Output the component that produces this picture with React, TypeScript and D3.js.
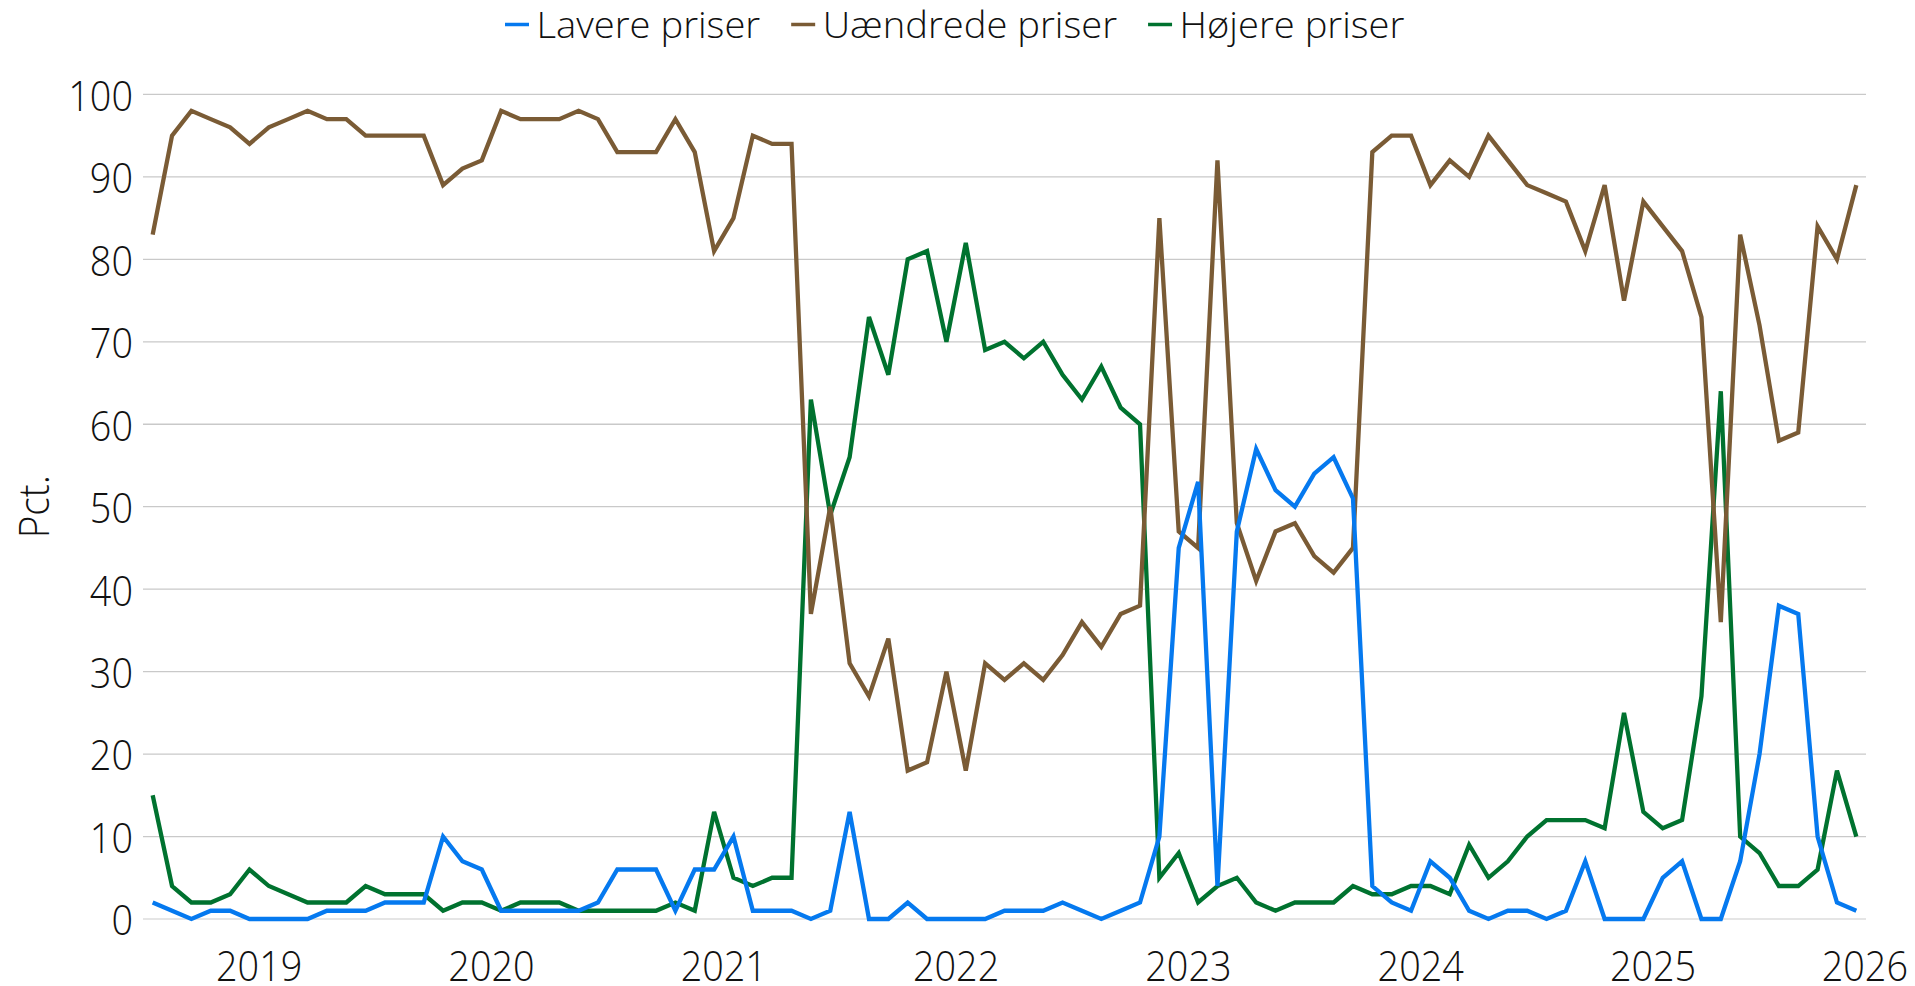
import React, { useEffect, useRef } from "react";
import * as d3 from "d3";

const W = 1915;
const H = 986;

// Monthly observations, first = July 2018, last = November 2025
const firstYear = 2018;
const firstMonth = 6; // July (0-based)

const lavere = [
  2, 1, 0, 1, 1, 0, 0, 0, 0, 1, 1, 1, 2, 2, 2, 10, 7, 6, 1, 1, 1,
  1, 1, 2, 6, 6, 6, 1, 6, 6, 10, 1, 1, 1, 0, 1, 13, 0, 0, 2, 0, 0,
  0, 0, 1, 1, 1, 2, 1, 0, 1, 2, 10, 45, 53, 4, 47, 57, 52, 50, 54, 56, 51,
  4, 2, 1, 7, 5, 1, 0, 1, 1, 0, 1, 7, 0, 0, 0, 5, 7, 0, 0, 7, 20, 38, 37, 10, 2, 1,
];

const uaendrede = [
  83, 95, 98, 97, 96, 94, 96, 97, 98, 97, 97, 95, 95, 95, 95, 89, 91, 92, 98, 97, 97,
  97, 98, 97, 93, 93, 93, 97, 93, 81, 85, 95, 94, 94, 37, 50, 31, 27, 34, 18, 19, 30,
  18, 31, 29, 31, 29, 32, 36, 33, 37, 38, 85, 47, 45, 92, 48, 41, 47, 48, 44, 42, 45,
  93, 95, 95, 89, 92, 90, 95, 92, 89, 88, 87, 81, 89, 75, 87, 84, 81, 73, 36, 83, 72, 58, 59, 84, 80, 89,
];

const hoejere = [
  15, 4, 2, 2, 3, 6, 4, 3, 2, 2, 2, 4, 3, 3, 3, 1, 2, 2, 1, 2, 2,
  2, 1, 1, 1, 1, 1, 2, 1, 13, 5, 4, 5, 5, 63, 49, 56, 73, 66, 80, 81, 70,
  82, 69, 70, 68, 70, 66, 63, 67, 62, 60, 5, 8, 2, 4, 5, 2, 1, 2, 2, 2, 4,
  3, 3, 4, 4, 3, 9, 5, 7, 10, 12, 12, 12, 11, 25, 13, 11, 12, 27, 64, 10, 8, 4, 4, 6, 18, 10,
];

const seriesNames = ["Lavere priser", "Uændrede priser", "Højere priser"];
const seriesColors = ["#0579EF", "#7A5B35", "#00722F"];
const yearTicks = [2019, 2020, 2021, 2022, 2023, 2024, 2025, 2026];
const yTicks = [0, 10, 20, 30, 40, 50, 60, 70, 80, 90, 100];
const yLabel = "Pct.";

const FONT = '"Open Sans", "Noto Sans", sans-serif';
const WEIGHT = 300;

export default function App() {
  const ref = useRef<SVGSVGElement | null>(null);

  useEffect(() => {
    const svg = d3.select(ref.current);
    svg.selectAll("*").remove();

    const left = 143;
    const right = 1866;
    const top = 94.4;
    const bottom = 919;
    const nMonths = lavere.length;

    const x = d3.scaleLinear().domain([0, nMonths]).range([left, right]);
    const y = d3.scaleLinear().domain([0, 100]).range([bottom, top]);

    // gridlines
    svg
      .append("g")
      .selectAll("line")
      .data(yTicks)
      .join("line")
      .attr("x1", left)
      .attr("x2", right)
      .attr("y1", (d) => y(d))
      .attr("y2", (d) => y(d))
      .attr("stroke", (d) => (d === 0 ? "#dcdcdc" : "#c9c9c9"))
      .attr("stroke-width", 1.3);

    // y tick labels
    const tickScale = 0.9;
    svg
      .append("g")
      .selectAll("g")
      .data(yTicks)
      .join("g")
      .attr("transform", (d) => `translate(${left - 10},${y(d) + 16.4}) scale(${tickScale},1)`)
      .append("text")
      .attr("text-anchor", "end")
      .attr("font-family", FONT)
      .attr("font-weight", WEIGHT)
      .attr("font-size", 42)
      .attr("fill", "#111")
      .text((d) => String(d));

    // x year labels
    const monthIndex = (yr: number) => (yr - firstYear) * 12 - firstMonth;
    svg
      .append("g")
      .selectAll("g")
      .data(yearTicks)
      .join("g")
      .each(function (d) {
        const g = d3.select(this);
        const cx = x(monthIndex(d));
        const t = g
          .append("text")
          .attr("text-anchor", "middle")
          .attr("font-family", FONT)
          .attr("font-weight", WEIGHT)
          .attr("font-size", 42)
          .attr("fill", "#111")
          .text(String(d));
        const w = ((t.node() as SVGTextElement).getComputedTextLength() || 90) * tickScale;
        let px = cx;
        if (px + w / 2 > W - 7) px = W - 7 - w / 2;
        g.attr("transform", `translate(${px},980.5) scale(${tickScale},1)`);
      });

    // y axis title
    svg
      .append("g")
      .attr("transform", `translate(49,${(top + bottom) / 2}) rotate(-90) scale(${tickScale},1)`)
      .append("text")
      .attr("text-anchor", "middle")
      .attr("font-family", FONT)
      .attr("font-weight", WEIGHT)
      .attr("font-size", 43)
      .attr("fill", "#111")
      .text(yLabel);

    // lines
    const allSeries = [lavere, uaendrede, hoejere];
    const drawOrder = [2, 1, 0];
    const line = d3
      .line<number>()
      .x((_, i) => x(i + 0.5))
      .y((d) => y(d));
    const lines = svg.append("g");
    drawOrder.forEach((k) => {
      lines
        .append("path")
        .attr("d", line(allSeries[k]) || "")
        .attr("fill", "none")
        .attr("stroke", seriesColors[k])
        .attr("stroke-width", 4.3)
        .attr("stroke-linejoin", "miter")
        .attr("stroke-miterlimit", 4);
    });

    // legend
    const legend = svg.append("g");
    const markerW = 24;
    const gapText = 7.5;
    const gapItem = 31;
    const legendScale = 1.06;
    let cur = 505;
    seriesNames.forEach((name, k) => {
      const g = legend.append("g");
      g.append("line")
        .attr("x1", 0)
        .attr("x2", markerW)
        .attr("y1", 24.5)
        .attr("y2", 24.5)
        .attr("stroke", seriesColors[k])
        .attr("stroke-width", 3.5);
      const t = g
        .append("g")
        .attr("transform", `translate(${markerW + gapText},37.7) scale(${legendScale},1)`)
        .append("text")
        .attr("font-family", FONT)
        .attr("font-weight", WEIGHT)
        .attr("font-size", 36)
        .attr("fill", "#111")
        .text(name);
      const tw = ((t.node() as SVGTextElement).getComputedTextLength() || 210) * legendScale;
      g.attr("transform", `translate(${cur},0)`);
      cur += markerW + gapText + tw + gapItem;
    });
  }, []);

  return (
    <svg
      ref={ref}
      width={W}
      height={H}
      style={{ position: "absolute", left: 0, top: 0, background: "#fff" }}
    />
  );
}
